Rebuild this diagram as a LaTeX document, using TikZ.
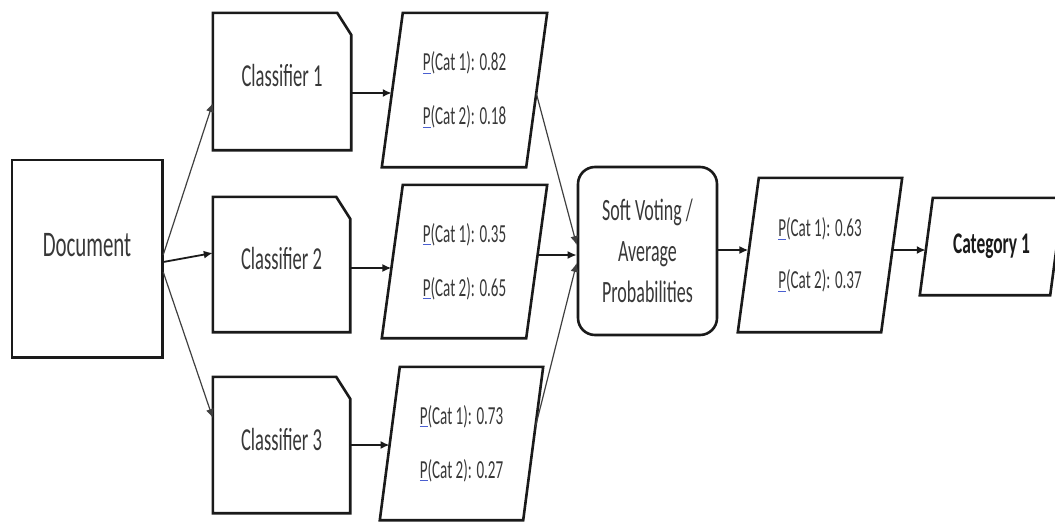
\documentclass[tikz,border=0pt]{standalone}
\usepackage{fontspec}
\setmainfont{Carlito}[FakeStretch=0.58]
\usetikzlibrary{arrows.meta,calc}
\definecolor{ink}{HTML}{1A1A1A}
\definecolor{txt}{HTML}{383838}
\definecolor{squiggle}{HTML}{4A5FD0}
% "P" carrying a small blue underline
\newcommand\pmark{\makebox[0pt][l]{\color{squiggle}\rule[-3pt]{8pt}{1.2pt}}P}
% parallelogram outline drawn on an invisible rectangle node: #1 node, #2 slant
\newcommand\slantbox[2]{\draw[box] (#1.south west) -- ($(#1.south east)+(-#2,0)$)
  -- (#1.north east) -- ($(#1.north west)+(#2,0)$) -- cycle;}
% rectangle with its top-right corner cut off
\newcommand\cutbox[1]{\draw[box] (#1.south west) -- (#1.north west)
  -- ($(#1.north east)+(-14,0)$) -- ($(#1.north east)+(0,22)$) -- (#1.south east) -- cycle;}
\begin{document}
\begin{tikzpicture}[x=1pt,y=-1pt,
  box/.style={draw=ink, line width=2.6pt, line join=miter},
  slot/.style={inner sep=0pt, text=txt},
  lbl/.style={text=txt, inner sep=0pt},
  clsfont/.style={font=\fontsize{32}{36}\selectfont},
  prob/.style={slot, align=center, font=\fontsize{26}{54}\selectfont},
  arr/.style={-{Latex[length=9pt,width=8pt]}, line width=1.8pt, draw=ink},
  fan/.style={-{Latex[length=9pt,width=8pt]}, line width=1.2pt, draw=black!75}]
\useasboundingbox (0,0) rectangle (1055,522);
\clip (0,0) rectangle (1055,522);

% input document
\node[slot, minimum width=150pt, minimum height=197pt,
  label={[lbl, font=\fontsize{36}{40}\selectfont, yshift=13pt]center:Document}] (doc) at (87,258.5) {};
\draw[box] (doc.south west) rectangle (doc.north east);

% classifiers
\node[slot, minimum width=138pt, minimum height=137pt,
  label={[lbl, clsfont, yshift=6pt]center:Classifier 1}] (c1) at (282,81.5) {};
\node[slot, minimum width=137pt, minimum height=135pt,
  label={[lbl, clsfont, yshift=6pt]center:Classifier 2}] (c2) at (281.5,264.5) {};
\node[slot, minimum width=137pt, minimum height=136pt,
  label={[lbl, clsfont, yshift=5pt]center:Classifier 3}] (c3) at (281.5,445) {};
\cutbox{c1}\cutbox{c2}\cutbox{c3}

% per-classifier probabilities
\node[prob, minimum width=165pt, minimum height=154pt] (p1) at (464.5,90)
  {\pmark(Cat 1): 0.82\\\pmark(Cat 2): 0.18};
\node[prob, minimum width=165pt, minimum height=153pt] (p2) at (464.5,261.5)
  {\pmark(Cat 1): 0.35\\\pmark(Cat 2): 0.65};
\node[prob, minimum width=163pt, minimum height=153pt] (p3) at (461.5,443.5)
  {\pmark(Cat 1): 0.73\\\pmark(Cat 2): 0.27};
\slantbox{p1}{21}\slantbox{p2}{21}\slantbox{p3}{20}

% soft voting
\node[box, rounded corners=17pt, text=txt, minimum width=139pt, minimum height=168pt,
  inner sep=0pt, align=center, font=\fontsize{31}{41}\selectfont] (sv) at (647.5,251)
  {Soft Voting /\\Average\\Probabilities};

% averaged probabilities
\node[prob, minimum width=164pt, minimum height=154pt, font=\fontsize{26}{52}\selectfont] (p4) at (820,255)
  {\pmark(Cat 1): 0.63\\\pmark(Cat 2): 0.37};
\slantbox{p4}{21}

% final decision
\node[slot, minimum width=143pt, minimum height=97pt,
  font=\bfseries\fontsize{30}{34}\selectfont, text=ink] (cat) at (991.5,246.5) {Category 1};
\slantbox{cat}{13}

% connectors
\draw[fan] ($(doc.east)+(1,-3.5)$) -- ($(c1.west)+(0,21.5)$);
\draw[arr] ($(doc.east)+(1,3.5)$) -- ($(c2.west)+(0,-11.5)$);
\draw[fan] ($(doc.east)+(1,13.5)$) -- ($(c3.west)+(0,-27)$);

\draw[arr] ($(c1.east)+(0,11.5)$) -- ($(p1.west)+(10,3)$);
\draw[arr] ($(c2.east)+(0,3.5)$) -- ($(p2.west)+(9.6,6.5)$);
\draw[arr] (c3.east) -- ($(p3.west)+(9.8,1.5)$);

\draw[fan] ($(p1.east)+(-11,3)$) -- ($(sv.west)+(0,-6)$);
\draw[arr] ($(p2.east)+(-9.6,-6.5)$) -- ($(sv.west)+(0,4)$);
\draw[fan] ($(p3.east)+(-7.8,-16.5)$) -- ($(sv.west)+(0,12)$);

\draw[arr] ($(sv.east)+(0,-1)$) -- ($(p4.west)+(10.6,-5)$);
\draw[arr] ($(p4.east)+(-10.3,-5)$) -- ($(cat.west)+(6,3.5)$);
\end{tikzpicture}
\end{document}
